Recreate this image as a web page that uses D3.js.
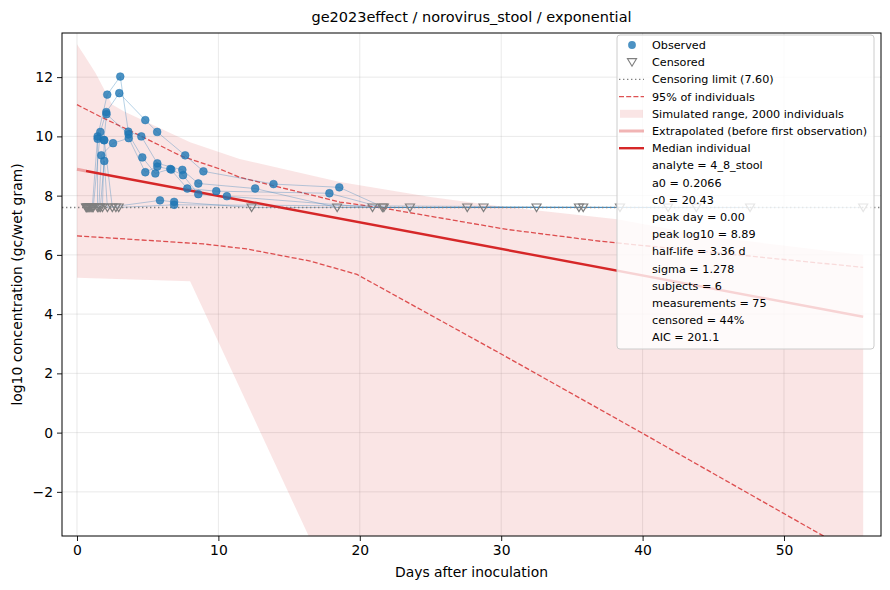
<!DOCTYPE html>
<html>
<head>
<meta charset="utf-8">
<script src="https://cdn.jsdelivr.net/npm/d3@7"></script>
<style>
  body { margin: 0; background: #fff; }
  text { font-family: "DejaVu Sans", sans-serif; }
</style>
</head>
<body>
<script>
// ge2023effect / norovirus_stool / exponential fit

// observed measurements (day, log10 value, subject)
var obsDays = [1.46, 1.46, 1.65, 1.72, 1.9, 1.93, 1.93, 2.07, 2.09, 2.14, 2.55, 2.99, 3.06, 3.63,
  3.65, 3.66, 4.55, 4.62, 4.83, 4.83, 5.54, 5.67, 5.68, 5.68, 5.87, 6.6, 6.67, 6.87, 6.87,
  7.45, 7.5, 7.65, 7.8, 8.58, 8.58, 8.94, 9.85, 10.6, 12.6, 13.9, 17.85, 18.55];
var obsValues = [10.0, 9.92, 10.15, 9.36, 9.88, 9.87, 9.17, 10.82, 10.75, 11.41, 9.77, 11.46, 12.02, 10.16,
  10.07, 9.94, 10.0, 9.29, 10.55, 8.79, 8.75, 10.15, 9.09, 8.98, 7.84, 8.9, 8.88, 7.79, 7.69,
  8.87, 8.69, 9.36, 8.24, 8.41, 8.05, 8.82, 8.15, 7.98, 8.24, 8.39, 8.08, 8.28];
var obsSubject = [1, 3, 2, 4, 3, 6, 5, 2, 3, 1, 4, 2, 1, 1,
  3, 4, 1, 3, 2, 4, 3, 2, 1, 4, 5, 3, 4, 5, 6,
  1, 4, 2, 3, 1, 4, 2, 3, 4, 1, 2, 3, 2];

// censored measurements (below limit)
var censDays = [0.64, 0.68, 0.72, 0.78, 0.85, 0.92, 1.0, 1.08, 1.15, 1.45, 1.55, 1.65, 1.8, 2.15, 2.5, 2.75, 2.95,
  12.35, 18.4, 20.9, 21.6, 21.7, 23.55, 27.6, 28.75, 32.5, 35.5, 35.8, 38.4, 41.8, 43.8, 47.6, 55.6];
var censSubject = [1, 2, 3, 4, 5, 6, 6, 1, 2, 3, 4, 5, 6, 5, 6, 6, 6,
  5, 1, 4, 3, 2, 5, 1, 4, 3, 5, 2, 1, 6, 4, 3, 2];
var censorLimit = 7.60;

// simulated range (2000 individuals)
var rangeTopDays = [0, 0.5, 1.3, 2.48, 3.3, 5.3, 8, 11.5, 18.6, 25, 29.9, 38.2, 45, 55.6];
var rangeTopValues = [13.11, 12.75, 12.15, 11.08, 10.85, 10.4, 9.8, 9.24, 8.46, 7.95, 7.64, 7.2, 6.6, 6.0];
var rangeBottomDays = [0, 8, 24, 55.6];
var rangeBottomValues = [5.23, 5.11, -11.3, -20];

// 95% of individuals
var upperDays = [0, 1.6, 4.45, 7.3, 10.1, 11.5, 18.6, 21.4, 30.4, 37, 45, 55.6];
var upperValues = [11.07, 10.68, 10.03, 9.35, 8.9, 8.62, 7.78, 7.6, 6.86, 6.46, 6.08, 5.58];
var lowerDays = [0, 4, 8.94, 12, 16.5, 19.8, 29.9, 39.8, 49.8, 55.6];
var lowerValues = [6.64, 6.52, 6.37, 6.2, 5.79, 5.34, 2.68, 0.03, -2.68, -4.25];

// median individual
var medianDays = [0.64, 55.6];
var medianValues = [8.83, 3.91];
var extrapDays = [0, 0.64];
var extrapValues = [8.89, 8.83];

var xTicks = [0, 10, 20, 30, 40, 50];
var yTicks = [-2, 0, 2, 4, 6, 8, 10, 12];

var legendEntries = ["Observed", "Censored", "Censoring limit (7.60)", "95% of individuals",
  "Simulated range, 2000 individuals", "Extrapolated (before first observation)", "Median individual"];
var statLines = ["analyte = 4_8_stool", "a0 = 0.2066", "c0 = 20.43", "peak day = 0.00",
  "peak log10 = 8.89", "half-life = 3.36 d", "sigma = 1.278", "subjects = 6",
  "measurements = 75", "censored = 44%", "AIC = 201.1"];

window.onload = function() {
  var W = 890, H = 590;
  var margin = {top: 33, right: 9, bottom: 54, left: 62},
      width = W - margin.left - margin.right,
      height = H - margin.top - margin.bottom;

  var red = "#d62728", blue = "#1f77b4";

  var svg = d3.select("body").append("svg")
      .attr("width", W)
      .attr("height", H);

  var g = svg.append("g")
      .attr("transform", "translate(" + margin.left + "," + margin.top + ")");

  var x = d3.scaleLinear().domain([-1.06, 56.86]).range([0, width]);
  var y = d3.scaleLinear().domain([-3.49, 13.49]).range([height, 0]);

  svg.append("defs").append("clipPath").attr("id", "plot")
    .append("rect").attr("width", width).attr("height", height);

  // grid
  g.append("g").selectAll("line").data(xTicks).enter().append("line")
    .attr("x1", d => x(d)).attr("x2", d => x(d))
    .attr("y1", 0).attr("y2", height)
    .attr("stroke", "#b0b0b0").attr("stroke-opacity", 0.35).attr("stroke-width", 0.8);
  g.append("g").selectAll("line").data(yTicks).enter().append("line")
    .attr("y1", d => y(d)).attr("y2", d => y(d))
    .attr("x1", 0).attr("x2", width)
    .attr("stroke", "#b0b0b0").attr("stroke-opacity", 0.35).attr("stroke-width", 0.8);

  var plot = g.append("g").attr("clip-path", "url(#plot)");

  var line = d3.line().x(d => x(d[0])).y(d => y(d[1]));
  var zip = function(a, b) { return a.map(function(v, i) { return [v, b[i]]; }); };

  // simulated range
  var top = zip(rangeTopDays, rangeTopValues);
  var bottom = zip(rangeBottomDays, rangeBottomValues).reverse();
  plot.append("path")
    .attr("d", line(top.concat(bottom)) + "Z")
    .attr("fill", red).attr("fill-opacity", 0.12);

  // 95% lines
  [zip(upperDays, upperValues), zip(lowerDays, lowerValues)].forEach(function(pts) {
    plot.append("path").attr("d", line(pts))
      .attr("fill", "none").attr("stroke", red).attr("stroke-opacity", 0.8)
      .attr("stroke-width", 1.3).attr("stroke-dasharray", "5,2.2");
  });

  // subject trajectories
  var all = [];
  obsDays.forEach(function(d, i) { all.push({day: d, v: obsValues[i], s: obsSubject[i]}); });
  censDays.forEach(function(d, i) { all.push({day: d, v: censorLimit, s: censSubject[i]}); });
  d3.groups(all, d => d.s).forEach(function(grp) {
    var pts = grp[1].sort((a, b) => a.day - b.day).map(d => [d.day, d.v]);
    plot.append("path").attr("d", line(pts))
      .attr("fill", "none").attr("stroke", blue).attr("stroke-opacity", 0.32)
      .attr("stroke-width", 1);
  });

  // censoring limit
  plot.append("line")
    .attr("x1", 0).attr("x2", width)
    .attr("y1", y(censorLimit)).attr("y2", y(censorLimit))
    .attr("stroke", "#808080").attr("stroke-width", 1.4).attr("stroke-dasharray", "1.4,2.6");

  // extrapolated + median
  plot.append("path").attr("d", line(zip(extrapDays, extrapValues)))
    .attr("fill", "none").attr("stroke", red).attr("stroke-opacity", 0.35).attr("stroke-width", 3);
  plot.append("path").attr("d", line(zip(medianDays, medianValues)))
    .attr("fill", "none").attr("stroke", red).attr("stroke-width", 2.4);

  // censored markers
  var tri = "M-4.5,-3.5L4.5,-3.5L0,4Z";
  plot.append("g").selectAll("path").data(censDays).enter().append("path")
    .attr("d", tri)
    .attr("transform", d => "translate(" + x(d) + "," + y(censorLimit) + ")")
    .attr("fill", "none").attr("stroke", "#7f7f7f").attr("stroke-width", 1.2);

  // observed markers
  plot.append("g").selectAll("circle").data(obsDays).enter().append("circle")
    .attr("cx", d => x(d))
    .attr("cy", (d, i) => y(obsValues[i]))
    .attr("r", 3.9)
    .attr("fill", blue).attr("fill-opacity", 0.8)
    .attr("stroke", blue).attr("stroke-opacity", 0.8).attr("stroke-width", 0.6);

  // axes
  var xAxis = d3.axisBottom(x).tickValues(xTicks).tickSize(5).tickPadding(4);
  var yAxis = d3.axisLeft(y).tickValues(yTicks).tickSize(5).tickPadding(4)
    .tickFormat(d => d < 0 ? "\u2212" + Math.abs(d) : d);

  var gx = g.append("g").attr("transform", "translate(0," + height + ")").call(xAxis);
  var gy = g.append("g").call(yAxis);
  [gx, gy].forEach(function(a) {
    a.select(".domain").remove();
    a.selectAll("text").style("font-size", "13.9px").attr("fill", "#000");
    a.selectAll("line").attr("stroke", "#000").attr("stroke-width", 0.9);
  });

  g.append("rect").attr("width", width).attr("height", height)
    .attr("fill", "none").attr("stroke", "#000").attr("stroke-width", 1);

  // title and labels
  svg.append("text")
    .attr("x", margin.left + width / 2).attr("y", 22)
    .attr("text-anchor", "middle").style("font-size", "14.5px")
    .text("ge2023effect / norovirus_stool / exponential");
  svg.append("text")
    .attr("x", margin.left + width / 2).attr("y", 577)
    .attr("text-anchor", "middle").style("font-size", "13.9px")
    .text("Days after inoculation");
  svg.append("text")
    .attr("transform", "translate(22," + (margin.top + height / 2) + ") rotate(-90)")
    .attr("text-anchor", "middle").style("font-size", "13.9px")
    .text("log10 concentration (gc/wet gram)");

  // legend
  var lg = svg.append("g").attr("transform", "translate(617,35)");
  lg.append("rect")
    .attr("width", 257).attr("height", 314).attr("rx", 3)
    .attr("fill", "#fff").attr("fill-opacity", 0.8)
    .attr("stroke", "#cccccc").attr("stroke-width", 1);

  var rowH = 17.2, row0 = 10, tx = 35;
  var rows = legendEntries.concat(statLines);
  lg.selectAll("text.item").data(rows).enter().append("text")
    .attr("class", "item")
    .attr("x", tx).attr("y", (d, i) => row0 + i * rowH + 4)
    .style("font-size", "11.2px")
    .text(d => d);

  var ry = i => row0 + i * rowH;
  lg.append("circle").attr("cx", 15).attr("cy", ry(0)).attr("r", 3.9)
    .attr("fill", blue).attr("fill-opacity", 0.8);
  lg.append("path").attr("d", tri).attr("transform", "translate(15," + ry(1) + ")")
    .attr("fill", "none").attr("stroke", "#7f7f7f").attr("stroke-width", 1.2);
  lg.append("line").attr("x1", 2).attr("x2", 27).attr("y1", ry(2)).attr("y2", ry(2))
    .attr("stroke", "#808080").attr("stroke-width", 1.4).attr("stroke-dasharray", "1.4,2.6");
  lg.append("line").attr("x1", 2).attr("x2", 27).attr("y1", ry(3)).attr("y2", ry(3))
    .attr("stroke", red).attr("stroke-opacity", 0.8).attr("stroke-width", 1.3).attr("stroke-dasharray", "5,2.2");
  lg.append("rect").attr("x", 3).attr("y", ry(4) - 4).attr("width", 23).attr("height", 8)
    .attr("fill", red).attr("fill-opacity", 0.12);
  lg.append("line").attr("x1", 2).attr("x2", 27).attr("y1", ry(5)).attr("y2", ry(5))
    .attr("stroke", red).attr("stroke-opacity", 0.35).attr("stroke-width", 3);
  lg.append("line").attr("x1", 2).attr("x2", 27).attr("y1", ry(6)).attr("y2", ry(6))
    .attr("stroke", red).attr("stroke-width", 2.4);
};
</script>
</body>
</html>
